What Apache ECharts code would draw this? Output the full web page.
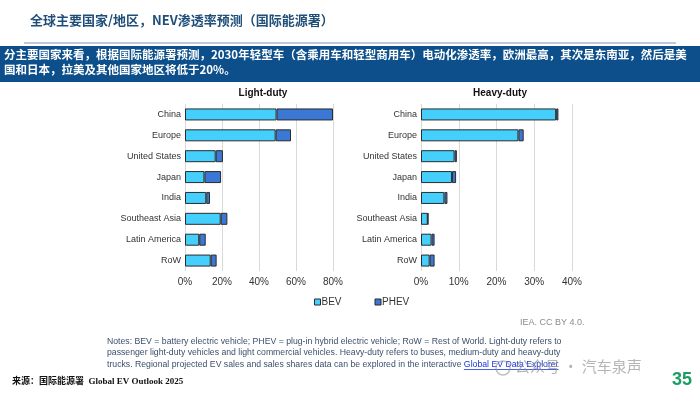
<!DOCTYPE html>
<html><head><meta charset="utf-8">
<script src="https://cdn.jsdelivr.net/npm/echarts@6/dist/echarts.min.js"></script>
<style>html,body{margin:0;padding:0;background:#fff}#c{width:700px;height:393px}</style>
</head><body><div id="c"></div>
<script>
const categories = ['China','Europe','United States','Japan','India','Southeast Asia','Latin America','RoW'];
const lightBEV  = [49.5, 49.0, 16.6, 10.5, 11.5, 19.3, 7.7, 13.9];
const lightPHEV = [30.5, 8.3, 3.9, 9.0, 2.0, 3.6, 3.5, 3.2];
const heavyBEV  = [35.8, 25.8, 8.9, 8.2, 6.2, 1.8, 2.8, 2.3];
const heavyPHEV = [0.6, 1.4, 0.6, 1.1, 0.8, 0.1, 0.8, 1.3];
const lightTicks = {min:0, max:80, interval:20};
const heavyTicks = {min:0, max:40, interval:10};
const titleText = '全球主要国家/地区，NEV渗透率预测（国际能源署）';
const bannerLine1 = '分主要国家来看，根据国际能源署预测，2030年轻型车（含乘用车和轻型商用车）电动化渗透率，欧洲最高，其次是东南亚，然后是美';
const bannerLine2 = '国和日本，拉美及其他国家地区将低于20%。';
const note1 = 'Notes: BEV = battery electric vehicle; PHEV = plug-in hybrid electric vehicle; RoW = Rest of World. Light-duty refers to';
const note2 = 'passenger light-duty vehicles and light commercial vehicles. Heavy-duty refers to buses, medium-duty and heavy-duty';
const note3a = 'trucks. Regional projected EV sales and sales shares data can be explored in the interactive ';
const note3b = 'Global EV Data Explorer';

const BEV_C = '#45cffd', PHEV_C = '#3b77d5', EDGE = '#2b2b2b';
const LAT = '"Liberation Sans", Arial, sans-serif';
const CJK = '"Noto Sans CJK SC", sans-serif';
const NOTE_FONT = '8.7px ' + LAT;

const mctx = document.createElement('canvas').getContext('2d');
mctx.font = NOTE_FONT;
const linkX0 = 107 + mctx.measureText(note3a).width;
const linkX1 = linkX0 + mctx.measureText(note3b).width;

const chart = echarts.init(document.getElementById('c'), null, {renderer:'canvas'});
function yAx(i){return {type:'category', gridIndex:i, data:categories, inverse:true,
  axisLine:{show:false}, axisTick:{show:false},
  axisLabel:{color:'#333', fontFamily:LAT, fontSize:9, margin:4}};}
function xAx(i,t){return {type:'value', gridIndex:i, min:t.min, max:t.max, interval:t.interval,
  axisLine:{show:false}, axisTick:{show:false},
  splitLine:{show:true, lineStyle:{color:'#d9d9d9', width:1}},
  axisLabel:{color:'#333', fontFamily:LAT, fontSize:10, margin:6, formatter:'{value}%'}};}
function bar(name,data,i,color){return {name, type:'bar', stack:'s'+i, xAxisIndex:i, yAxisIndex:i,
  data, barWidth:12, itemStyle:{color, borderColor:EDGE, borderWidth:1}};}

chart.setOption({
  animation:false,
  grid:[{left:185, top:104, width:148, height:167},
        {left:421, top:104, width:151, height:167}],
  xAxis:[xAx(0,lightTicks), xAx(1,heavyTicks)],
  yAxis:[yAx(0), yAx(1)],
  title:[{text:'Light-duty', left:258, top:83, textAlign:'center',
          textStyle:{fontFamily:LAT, fontSize:10, fontWeight:'bold', color:'#111'}},
         {text:'Heavy-duty', left:495, top:83, textAlign:'center',
          textStyle:{fontFamily:LAT, fontSize:10, fontWeight:'bold', color:'#111'}}],
  legend:{left:309, top:292, itemWidth:6, itemHeight:6, itemGap:33, icon:'rect',
    textStyle:{fontFamily:LAT, fontSize:10, color:'#333', padding:[0,0,0,-4]},
    data:[{name:'BEV', itemStyle:{color:BEV_C, borderColor:EDGE, borderWidth:1}},
          {name:'PHEV', itemStyle:{color:PHEV_C, borderColor:EDGE, borderWidth:1}}]},
  series:[bar('BEV',lightBEV,0,BEV_C), bar('PHEV',lightPHEV,0,PHEV_C),
          bar('BEV',heavyBEV,1,BEV_C), bar('PHEV',heavyPHEV,1,PHEV_C)],
  graphic:[
    {type:'text', left:30, top:14, style:{text:titleText, font:'bold 13px '+CJK, fill:'#1f4e79'}},
    {type:'line', shape:{x1:24,y1:43,x2:676,y2:43}, style:{stroke:'#a9b7cc', lineWidth:1.5}},
    {type:'rect', shape:{x:0,y:46,width:700,height:36}, style:{fill:'#0c4f8a'}},
    {type:'text', left:4, top:49, style:{text:bannerLine1, font:'bold 11.5px '+CJK, fill:'#fff'}},
    {type:'text', left:4, top:64, style:{text:bannerLine2, font:'bold 11.5px '+CJK, fill:'#fff'}},
    {type:'text', left:520, top:318, style:{text:'IEA. CC BY 4.0.', font:'9px '+LAT, fill:'#8c8c8c'}},
    {type:'text', left:107, top:337, style:{text:note1, font:NOTE_FONT, fill:'#3c4f6b'}},
    {type:'text', left:107, top:348.5, style:{text:note2, font:NOTE_FONT, fill:'#3c4f6b'}},
    {type:'text', left:107, top:360, style:{
      text:'{a|'+note3a+'}{b|'+note3b+'}',
      rich:{a:{font:NOTE_FONT, fill:'#3c4f6b'}, b:{font:NOTE_FONT, fill:'#1a35d8'}}}},
    {type:'line', shape:{x1:linkX0,y1:369.5,x2:linkX1,y2:369.5}, style:{stroke:'#1a35d8', lineWidth:0.8}},
    {type:'circle', shape:{cx:503,cy:368,r:7}, style:{fill:'none', stroke:'rgba(150,150,150,0.6)', lineWidth:1.5}},
    {type:'text', left:515, top:359, style:{text:'公众号 · 汽车泉声', font:'15px '+CJK, fill:'rgba(150,150,150,0.7)'}},
    {type:'text', left:12, top:377, style:{text:'来源：国际能源署  Global EV Outlook 2025', font:'bold 9px "Liberation Serif", '+CJK, fill:'#111'}},
    {type:'text', right:8, top:371, style:{text:'35', font:'bold 18px '+LAT, fill:'#1a9e64'}}
  ]
});
</script></body></html>
